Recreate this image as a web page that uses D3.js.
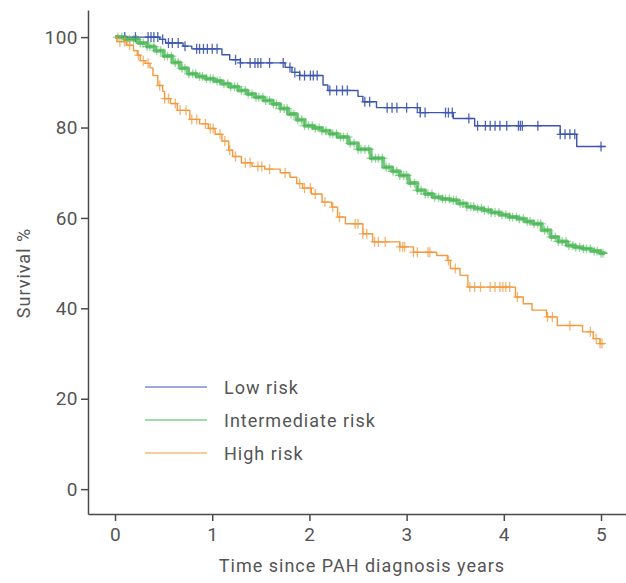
<!DOCTYPE html>
<html>
<head>
<meta charset="utf-8">
<script src="https://cdn.jsdelivr.net/npm/d3@7"></script>
<style>
  body { margin: 0; background: #fff; }
  svg { display: block; font-family: Roboto, 'DejaVu Sans', sans-serif; }
</style>
</head>
<body>
<svg id="chart" width="626" height="583"></svg>
<script>
// Kaplan-Meier survival by risk group.
// Each step array is [years, survival %]; censor arrays are times of "+" marks.
const LOW_STEPS = [[0, 100], [0.46, 99.5], [0.52, 98.7], [0.70, 98.0], [0.79, 97.4], [1.10, 96.1], [1.18, 95.0],
  [1.29, 94.3], [1.75, 93.3], [1.82, 92.2], [1.90, 91.5], [2.14, 89.4], [2.19, 88.2], [2.50, 86.9], [2.55, 85.7],
  [2.69, 84.4], [3.14, 83.3], [3.48, 82.0], [3.70, 80.4], [4.58, 78.5], [4.75, 75.8], [5.05, 75.8]];
const LOW_CENSOR = [0.10, 0.21, 0.34, 0.37, 0.40, 0.44, 0.49, 0.55, 0.59, 0.65, 0.72, 0.84, 0.87, 0.91, 0.95, 1.00,
  1.05, 1.24, 1.29, 1.39, 1.44, 1.47, 1.50, 1.59, 1.73, 1.80, 1.85, 1.90, 1.95, 2.01, 2.04, 2.08, 2.21, 2.28, 2.34,
  2.39, 2.57, 2.62, 2.80, 2.85, 2.90, 3.00, 3.11, 3.14, 3.19, 3.40, 3.43, 3.47, 3.64, 3.73, 3.81, 3.86, 3.91, 3.96,
  4.03, 4.15, 4.17, 4.19, 4.35, 4.58, 4.63, 4.68, 4.73, 5.00];

const MID_STEPS = [[0, 100], [0.10, 99.5], [0.24, 98.7], [0.33, 97.9], [0.41, 97.0], [0.50, 95.8], [0.59, 94.4],
  [0.67, 93.1], [0.75, 91.9], [0.84, 91.3], [0.93, 90.8], [1.02, 90.3], [1.10, 89.7], [1.18, 89.0], [1.27, 88.2],
  [1.36, 87.4], [1.44, 86.7], [1.53, 86.0], [1.62, 85.2], [1.70, 84.2], [1.78, 83.0], [1.87, 81.7], [1.95, 80.4],
  [2.04, 79.9], [2.13, 79.3], [2.21, 78.6], [2.29, 77.9], [2.40, 76.5], [2.50, 75.2], [2.63, 73.2], [2.76, 71.2],
  [2.85, 70.3], [2.93, 69.4], [3.02, 67.7], [3.11, 66.1], [3.19, 65.3], [3.27, 64.6], [3.36, 64.2], [3.45, 63.9],
  [3.53, 63.2], [3.62, 62.5], [3.70, 62.1], [3.79, 61.7], [3.87, 61.2], [3.96, 60.7], [4.05, 60.2], [4.14, 59.8],
  [4.22, 59.2], [4.30, 58.7], [4.39, 57.3], [4.48, 55.8], [4.56, 54.8], [4.65, 53.9], [4.73, 53.5], [4.81, 53.2],
  [4.90, 52.7], [4.99, 52.2], [5.04, 52.0]];
const MID_CENSOR = [0.03, 0.07, 0.12, 0.15, 0.19, 0.22, 0.26, 0.29, 0.33, 0.36, 0.40, 0.43, 0.47, 0.51, 0.54, 0.58,
  0.62, 0.65, 0.69, 0.72, 0.76, 0.80, 0.83, 0.87, 0.90, 0.94, 0.98, 1.01, 1.05, 1.08, 1.12, 1.16, 1.19, 1.23, 1.26,
  1.30, 1.34, 1.37, 1.41, 1.45, 1.48, 1.52, 1.55, 1.59, 1.63, 1.66, 1.70, 1.74, 1.77, 1.81, 1.84, 1.88, 1.92, 1.95,
  1.99, 2.03, 2.06, 2.10, 2.13, 2.17, 2.21, 2.24, 2.28, 2.32, 2.35, 2.39, 2.42, 2.46, 2.50, 2.53, 2.57, 2.61, 2.64,
  2.68, 2.71, 2.75, 2.79, 2.82, 2.86, 2.90, 2.93, 2.97, 3.00, 3.04, 3.08, 3.11, 3.15, 3.19, 3.22, 3.26, 3.29, 3.33,
  3.37, 3.40, 3.44, 3.48, 3.51, 3.55, 3.58, 3.62, 3.66, 3.69, 3.73, 3.77, 3.80, 3.84, 3.87, 3.91, 3.95, 3.98, 4.02,
  4.06, 4.09, 4.13, 4.16, 4.20, 4.24, 4.27, 4.31, 4.35, 4.38, 4.42, 4.45, 4.49, 4.53, 4.56, 4.60, 4.64, 4.67, 4.71,
  4.74, 4.78, 4.82, 4.85, 4.89, 4.93, 4.96, 5.00, 5.02];

const HIGH_STEPS = [[0, 100], [0.02, 99.0], [0.12, 98.2], [0.19, 97.0], [0.23, 96.0], [0.26, 94.8], [0.31, 94.2],
  [0.36, 93.2], [0.39, 91.5], [0.44, 89.3], [0.49, 88.0], [0.51, 86.4], [0.57, 85.3], [0.64, 83.8], [0.77, 81.8],
  [0.87, 80.8], [0.96, 79.8], [1.03, 78.5], [1.10, 77.0], [1.17, 75.0], [1.21, 73.6], [1.30, 72.2], [1.41, 71.4],
  [1.54, 70.8], [1.70, 70.0], [1.80, 69.0], [1.87, 67.6], [1.93, 66.6], [2.02, 65.3], [2.13, 63.5], [2.23, 62.4],
  [2.29, 60.2], [2.37, 58.7], [2.55, 56.5], [2.65, 54.7], [2.93, 53.6], [3.07, 52.4], [3.31, 51.7], [3.42, 50.6],
  [3.45, 48.8], [3.55, 47.3], [3.63, 44.7], [4.12, 42.5], [4.20, 41.0], [4.29, 39.6], [4.44, 38.1], [4.55, 36.2],
  [4.81, 34.8], [4.92, 33.3], [4.99, 32.2], [5.04, 32.2]];
const HIGH_CENSOR = [0.05, 0.10, 0.15, 0.24, 0.29, 0.34, 0.46, 0.51, 0.55, 0.62, 0.67, 0.73, 0.79, 0.84, 0.93, 0.98,
  1.01, 1.08, 1.13, 1.18, 1.24, 1.34, 1.39, 1.47, 1.51, 1.59, 1.75, 1.90, 1.95, 2.01, 2.06, 2.16, 2.24, 2.31, 2.47,
  2.50, 2.55, 2.59, 2.67, 2.71, 2.78, 2.93, 2.96, 2.98, 3.07, 3.11, 3.22, 3.24, 3.43, 3.50, 3.65, 3.70, 3.76, 3.86,
  3.91, 3.96, 3.99, 4.02, 4.06, 4.14, 4.45, 4.50, 4.68, 4.89, 4.95, 4.99, 5.01];

const SERIES_NAMES = ['Low risk', 'Intermediate risk', 'High risk'];
const SERIES_COLORS = ['#3c55ad', '#45b651', '#f29a3f'];
const X_TICKS = [0, 1, 2, 3, 4, 5];
const Y_TICKS = [0, 20, 40, 60, 80, 100];

const series = [
  { name: SERIES_NAMES[0], color: SERIES_COLORS[0], steps: LOW_STEPS, censor: LOW_CENSOR, markOpacity: 0.9, lineW: 1.4, arm: 3.5, half: 5, pathOpacity: 1 },
  { name: SERIES_NAMES[1], color: SERIES_COLORS[1], steps: MID_STEPS, censor: MID_CENSOR, markOpacity: 0.55, lineW: 4, arm: 5, half: 4.5, pathOpacity: 0.75 },
  { name: SERIES_NAMES[2], color: SERIES_COLORS[2], steps: HIGH_STEPS, censor: HIGH_CENSOR, markOpacity: 0.75, lineW: 1.4, arm: 4, half: 5, pathOpacity: 1 },
];

const svg = d3.select('#chart');
const x = d3.scaleLinear().domain([-0.278, 5.257]).range([88, 626]);
const y = d3.scaleLinear().domain([-5.5, 106]).range([514, 10]);

function survivalAt(steps, t) {
  let v = steps[0][1];
  for (const [st, sv] of steps) { if (st <= t) v = sv; else break; }
  return v;
}

const axisColor = '#4a4a4a';
const textColor = '#555';

// axes
const gx = svg.append('g').attr('transform', `translate(0,${y.range()[0]})`)
  .call(d3.axisBottom(x).tickValues(X_TICKS).tickSize(7).tickPadding(7).tickSizeOuter(0).tickFormat(d3.format('d')));
const gy = svg.append('g').attr('transform', `translate(${x.range()[0]},0)`)
  .call(d3.axisLeft(y).tickValues(Y_TICKS).tickSize(7).tickPadding(3).tickSizeOuter(0));
[gx, gy].forEach((g) => {
  g.select('.domain').attr('stroke', axisColor).attr('stroke-width', 1.5);
  g.selectAll('.tick line').attr('stroke', axisColor).attr('stroke-width', 1.5);
  g.selectAll('.tick text').attr('fill', textColor)
    .style('font-size', '19px').style('letter-spacing', '0.5px').style('font-family', 'Roboto, sans-serif');
});

svg.append('text')
  .attr('x', 362).attr('y', 572)
  .attr('text-anchor', 'middle')
  .attr('fill', textColor)
  .style('font-size', '18px')
  .style('letter-spacing', '1px')
  .text('Time since PAH diagnosis years');

svg.append('text')
  .attr('transform', 'translate(30,273) rotate(-90)')
  .attr('text-anchor', 'middle')
  .attr('fill', textColor)
  .style('font-size', '18px')
  .style('letter-spacing', '1px')
  .text('Survival %');

// curves
const stepLine = d3.line().x((d) => x(d[0])).y((d) => y(d[1])).curve(d3.curveStepAfter);
const plot = svg.append('g');
series.forEach((s) => {
  const g = plot.append('g');
  g.append('path')
    .attr('d', stepLine(s.steps))
    .attr('fill', 'none')
    .attr('stroke', s.color)
    .attr('stroke-width', s.lineW)
    .attr('stroke-linejoin', 'round')
    .attr('opacity', s.pathOpacity);
  const marks = g.selectAll('g.mark').data(s.censor).enter().append('g')
    .attr('transform', (t) => `translate(${x(t)},${y(survivalAt(s.steps, t))})`)
    .attr('stroke', s.color)
    .attr('stroke-width', 1.3)
    .attr('opacity', s.markOpacity);
  marks.append('line').attr('x1', 0).attr('x2', 0).attr('y1', -s.half).attr('y2', s.half);
  marks.append('line').attr('x1', -s.arm).attr('x2', s.arm).attr('y1', 0).attr('y2', 0);
});

// legend
const legendY = [387, 420, 453];
const legend = svg.append('g');
series.forEach((s, i) => {
  legend.append('line')
    .attr('x1', 145).attr('x2', 207)
    .attr('y1', legendY[i]).attr('y2', legendY[i])
    .attr('stroke', s.color).attr('stroke-width', 1.2);
  legend.append('text')
    .attr('x', 224).attr('y', legendY[i] + 7)
    .attr('fill', textColor)
    .style('font-size', '18px')
    .style('letter-spacing', '1px')
    .text(s.name);
});
</script>
</body>
</html>
